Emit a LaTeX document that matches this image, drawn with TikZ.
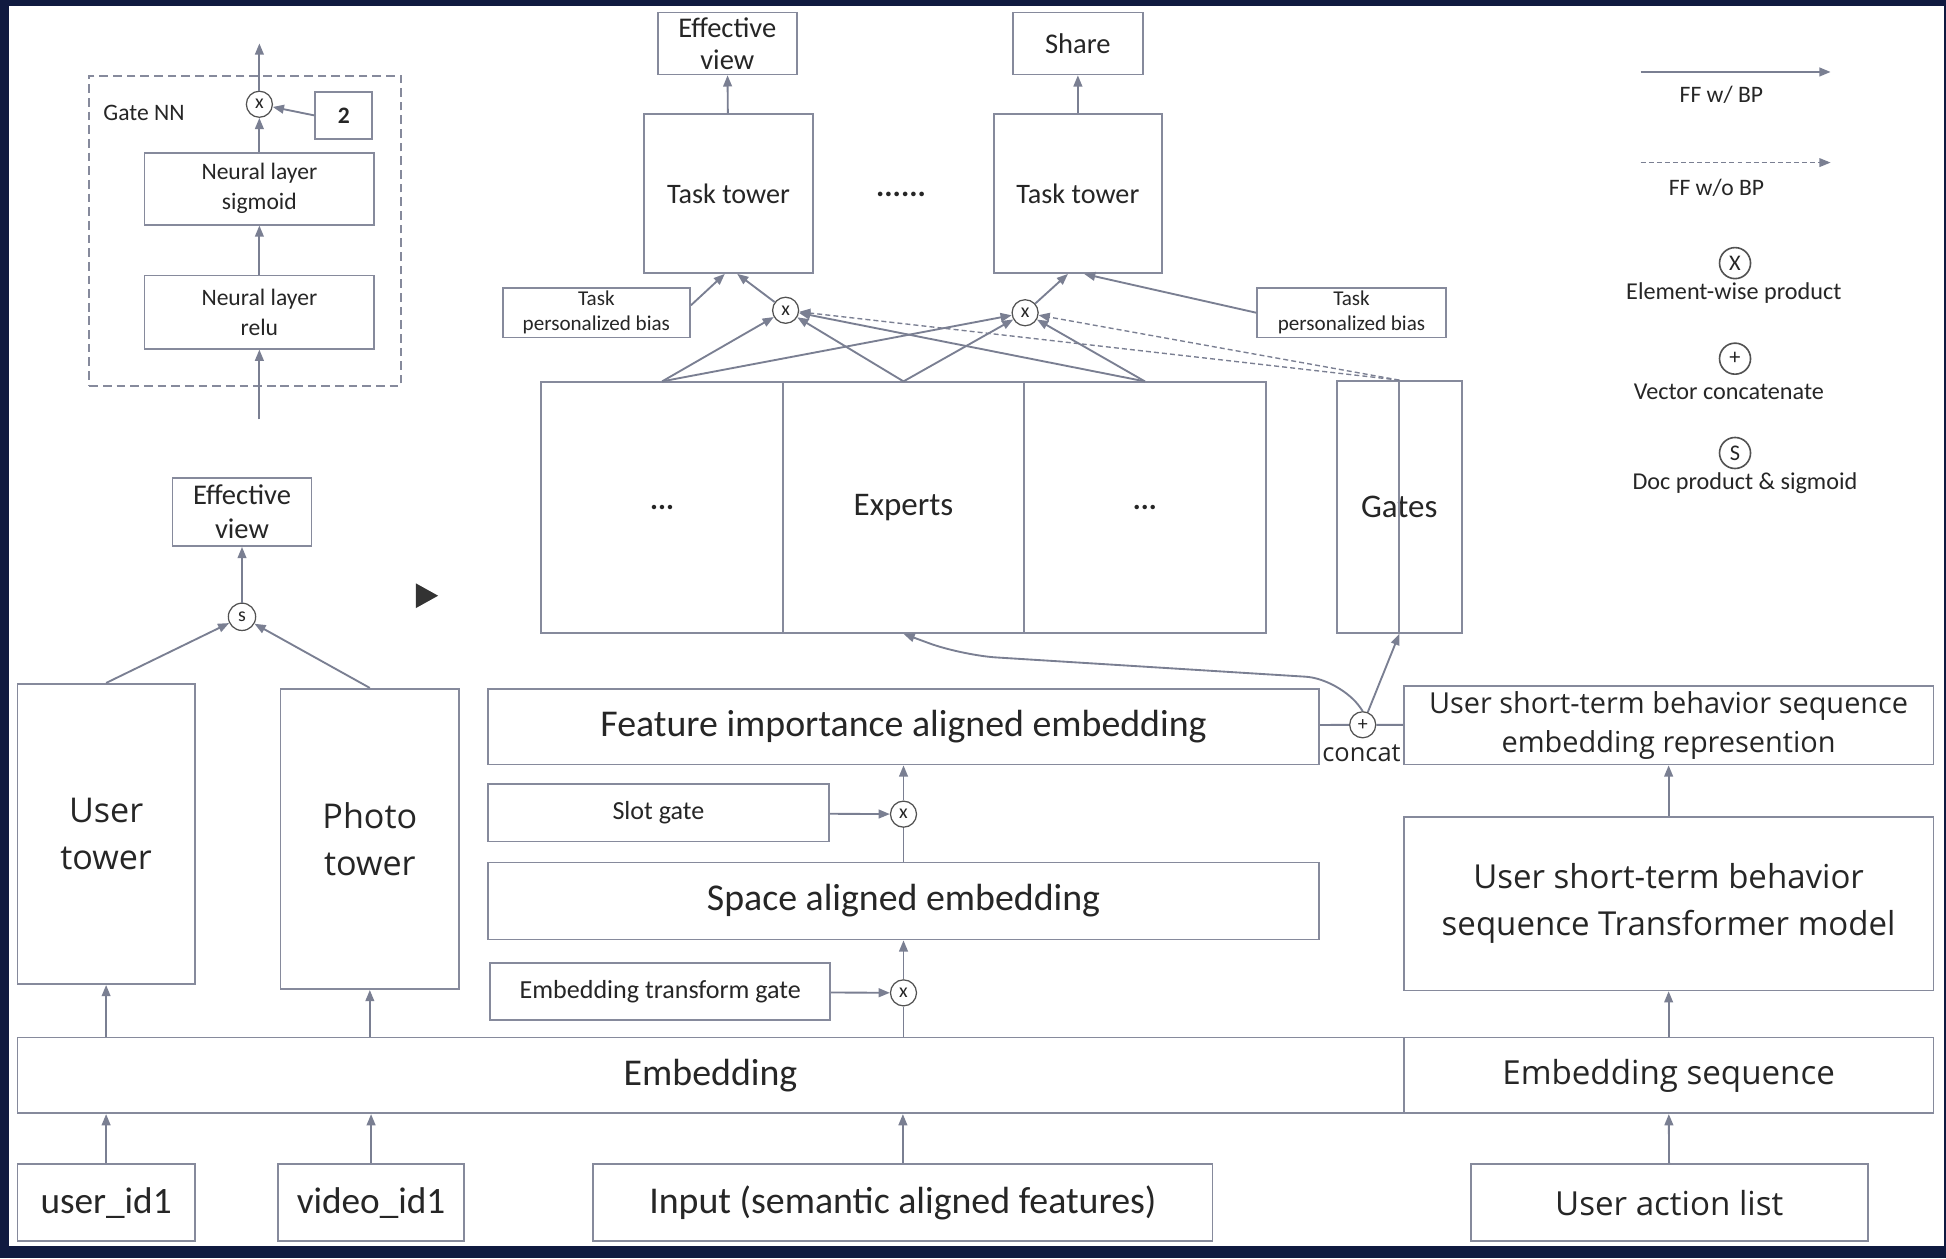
\documentclass[tikz,border=0pt]{standalone}
\usepackage{fontspec}
\setmainfont{Carlito}
\newfontfamily\wideface{Open Sans}
\usetikzlibrary{arrows.meta,positioning,calc}
\definecolor{FrameNavy}{RGB}{16,26,64}
\definecolor{BoxGrey}{RGB}{134,138,156}
\definecolor{WireGrey}{RGB}{122,127,146}
\colorlet{InkDark}{black!85}

\begin{document}
\begin{tikzpicture}[x=1pt,y=-1pt,
  blk/.style={draw=BoxGrey,line width=1.4pt,inner sep=0pt,align=center,text=InkDark},
  op/.style={circle,draw=InkDark!80,line width=1pt,inner sep=0pt,minimum size=21pt,fill=white,
    text=InkDark,font=\fontsize{16}{16}\selectfont},
  lbl/.style={text=InkDark,align=center,inner sep=0pt},
  wire/.style={-{Triangle[length=9pt,width=7pt]},WireGrey,line width=1.5pt},
  plain/.style={WireGrey,line width=1.5pt},
  nowire/.style={-{Triangle[length=9pt,width=7pt]},WireGrey,line width=1.1pt,dash pattern=on 4pt off 2.5pt}]
  \useasboundingbox (0,0) rectangle (1568,1014);
  \fill[FrameNavy] (0,0) rectangle (1568,1014);
  \fill[white] (7,5) rectangle (1566,1004);

  \node[blk,dash pattern=on 7pt off 4pt,minimum width=251pt,minimum height=250pt] (gatebox) at (197.5,186) {};
  \node[lbl,font=\fontsize{19}{19}\selectfont] (gatelbl) at (116,91) {Gate NN};
  \node[op] (gmul) at (209,84) {x};
  \node[blk,minimum width=46pt,minimum height=38pt,font=\fontsize{19}{19}\selectfont\bfseries] (two) at (277,93) {2};
  \node[blk,minimum width=185pt,minimum height=58pt,font=\fontsize{19}{24}\selectfont] (sigm) at (209,152) {Neural layer\\sigmoid};
  \node[blk,minimum width=185pt,minimum height=59pt,font=\fontsize{19}{24}\selectfont] (relu) at (209,251.5) {Neural layer\\relu};
  \coordinate (gatein) at (209,338);
  \coordinate (gateout) at (209,35);
  \draw[wire] (gatein) -- (relu);
  \draw[wire] (relu) -- (sigm);
  \draw[wire] (sigm) -- (gmul);
  \draw[wire] (two.west) -- (gmul);
  \draw[wire] (gmul) -- (gateout);

  \node[blk,minimum width=112pt,minimum height=55pt,font=\fontsize{23}{27}\selectfont] (evleft) at (195,412.5) {Effective\\view};
  \node[op,minimum size=22pt] (sdot) at (195,497) {s};
  \node[blk,minimum width=143pt,minimum height=242pt,font=\wideface\fontsize{27.5}{38}\selectfont] (utower) at (85.5,672) {User\\tower};
  \node[blk,minimum width=144pt,minimum height=242pt,font=\wideface\fontsize{27.5}{38}\selectfont] (ptower) at (298,676) {Photo\\tower};
  \draw[wire] (sdot) -- (evleft);
  \draw[wire] (utower.north) -- (sdot);
  \draw[wire] (ptower.north) -- (sdot);
  \fill[black!80] (335,470) -- (353,480) -- (335,490) -- cycle;

  \node[blk,minimum width=1117pt,minimum height=61pt,font=\fontsize{30.5}{30.5}\selectfont] (emb) at (572.5,866.5) {Embedding};
  \node[blk,minimum width=427pt,minimum height=61pt,font=\wideface\fontsize{26.7}{26.7}\selectfont] (embseq) at (1344.5,866.5) {Embedding sequence};
  \node[blk,minimum width=143pt,minimum height=62pt,font=\fontsize{30}{30}\selectfont] (uid) at (85.5,969) {user\_id1};
  \node[blk,minimum width=150pt,minimum height=62pt,font=\fontsize{30}{30}\selectfont] (vid) at (299,969) {video\_id1};
  \node[blk,minimum width=499pt,minimum height=62pt,font=\fontsize{30.5}{30.5}\selectfont] (inp) at (727.5,969) {Input (semantic aligned features)};
  \node[blk,minimum width=320pt,minimum height=62pt,font=\wideface\fontsize{26.7}{26.7}\selectfont] (ual) at (1345,969) {User action list};
  \draw[wire] (uid) -- (uid |- emb.south);
  \draw[wire] (vid) -- (vid |- emb.south);
  \draw[wire] (inp) -- (inp |- emb.south);
  \draw[wire] (ual) -- (embseq);
  \draw[wire] (utower |- emb.north) -- (utower);
  \draw[wire] (ptower |- emb.north) -- (ptower);

  \node[blk,minimum width=274pt,minimum height=46pt,font=\fontsize{21}{21}\selectfont] (etg) at (532,799) {Embedding transform gate};
  \node[op] (etmul) at (728,800) {x};
  \node[blk,minimum width=670pt,minimum height=62pt,font=\fontsize{30.5}{30.5}\selectfont] (sae) at (728,726) {Space aligned embedding};
  \node[blk,minimum width=275pt,minimum height=46pt,font=\fontsize{21}{21}\selectfont] (slot) at (530.5,655) {Slot gate};
  \node[op] (slotmul) at (728,656) {x};
  \node[blk,minimum width=670pt,minimum height=61pt,font=\fontsize{30.5}{30.5}\selectfont] (fiae) at (728,585.5) {Feature importance aligned embedding};
  \draw[plain] (etmul |- emb.north) -- (etmul);
  \draw[wire] (etmul) -- (sae);
  \draw[wire] (etg) -- (etmul);
  \draw[plain] (sae) -- (slotmul);
  \draw[wire] (slotmul) -- (fiae);
  \draw[wire] (slot) -- (slotmul);

  \node[blk,minimum width=427pt,minimum height=63pt,font=\wideface\fontsize{23.3}{32}\selectfont] (strep) at (1344.5,584.5) {User short-term behavior sequence\\embedding represention};
  \node[blk,minimum width=427pt,minimum height=140pt,font=\wideface\fontsize{26.6}{38}\selectfont] (trans) at (1344.5,728) {User short-term behavior\\sequence Transformer model};
  \draw[wire] (embseq) -- (trans);
  \draw[wire] (trans) -- (strep);
  \node[op] (cat) at (1098,584) {+};
  \node[lbl,font=\wideface\fontsize{20.5}{20.5}\selectfont] (catlbl) at (1097,607) {concat};
  \draw[plain] (fiae) -- (cat);
  \draw[plain] (strep) -- (cat);

  \node[blk,minimum width=195pt,minimum height=202pt,font=\fontsize{24}{24}\selectfont\bfseries] (exl) at (533.5,409) {...};
  \node[blk,minimum width=194pt,minimum height=202pt,font=\fontsize{26.6}{26.6}\selectfont] (exm) at (728,409) {Experts};
  \node[blk,minimum width=195pt,minimum height=202pt,font=\fontsize{24}{24}\selectfont\bfseries] (exr) at (922.5,409) {...};
  \node[blk,minimum width=101pt,minimum height=203pt,font=\fontsize{26.6}{26.6}\selectfont] (gates) at (1127.5,408.5) {Gates};
  \draw[BoxGrey,line width=1.4pt] (gates.north) -- (gates.south);
  \draw[wire] (cat) -- (gates.south);
  \draw[wire,rounded corners=28pt] (cat.north) -- (1080,547) -- (775,528) -- (exm.south);

  \node[blk,minimum width=136pt,minimum height=128pt,font=\fontsize{22.7}{22.7}\selectfont] (tt1) at (587,156) {Task tower};
  \node[blk,minimum width=135pt,minimum height=128pt,font=\fontsize{22.7}{22.7}\selectfont] (tt2) at (868.5,156) {Task tower};
  \node[lbl,font=\fontsize{25}{25}\selectfont\bfseries] (tdots) at (726,157) {......};
  \node[blk,minimum width=112pt,minimum height=50pt,font=\fontsize{23}{26}\selectfont] (ev1) at (586,35) {Effective\\view};
  \node[blk,minimum width=105pt,minimum height=50pt,font=\fontsize{23}{23}\selectfont] (share) at (868.5,35) {Share};
  \draw[wire] (tt1) -- (ev1);
  \draw[wire] (tt2) -- (share);
  \node[blk,minimum width=151pt,minimum height=40pt,font=\fontsize{17}{20}\selectfont] (tpb1) at (480.5,252) {Task\\personalized bias};
  \node[blk,minimum width=152pt,minimum height=40pt,font=\fontsize{17}{20}\selectfont] (tpb2) at (1089,252) {Task\\personalized bias};
  \node[op] (tm1) at (633,250) {x};
  \node[op] (tm2) at (826,252) {x};
  \foreach \e in {exl,exm,exr}
    \foreach \t in {tm1,tm2}
      \draw[wire] (\e.north) -- (\t);
  \draw[nowire] (gates.north) -- (tm1);
  \draw[nowire] (gates.north) -- (tm2);
  \draw[wire] ($(tpb1.east)+(0,-6)$) -- ($(tt1.south)+(-3,0)$);
  \draw[wire] (tm1) -- ($(tt1.south)+(7,0)$);
  \draw[wire] (tm2) -- ($(tt2.south)+(-8,0)$);
  \draw[wire] (tpb2.west) -- ($(tt2.south)+(5,0)$);

  \coordinate (lgsa) at (1322,58);
  \coordinate (lgsb) at (1475,58);
  \coordinate (lgda) at (1322,131);
  \coordinate (lgdb) at (1475,131);
  \draw[wire] (lgsa) -- (lgsb);
  \draw[nowire] (lgda) -- (lgdb);
  \node[lbl,font=\fontsize{19}{19}\selectfont] (lgslbl) at (1387,76) {FF w/ BP};
  \node[lbl,font=\fontsize{19}{19}\selectfont] (lgdlbl) at (1383,151) {FF w/o BP};
  \node[op,minimum size=25pt,line width=1.3pt,font=\fontsize{18}{18}\selectfont] (lgx) at (1398,212) {X};
  \node[lbl,font=\fontsize{19.5}{19.5}\selectfont] (lgxlbl) at (1397,236) {Element-wise product};
  \node[op,minimum size=25pt,line width=1.3pt,font=\fontsize{18}{18}\selectfont] (lgp) at (1398,289) {+};
  \node[lbl,font=\fontsize{19.5}{19.5}\selectfont] (lgplbl) at (1393,316) {Vector concatenate};
  \node[op,minimum size=25pt,line width=1.3pt,font=\fontsize{18}{18}\selectfont] (lgs) at (1398,365) {S};
  \node[lbl,font=\fontsize{19.5}{19.5}\selectfont] (lgslbl2) at (1406,389) {Doc product \& sigmoid};
\end{tikzpicture}
\end{document}
